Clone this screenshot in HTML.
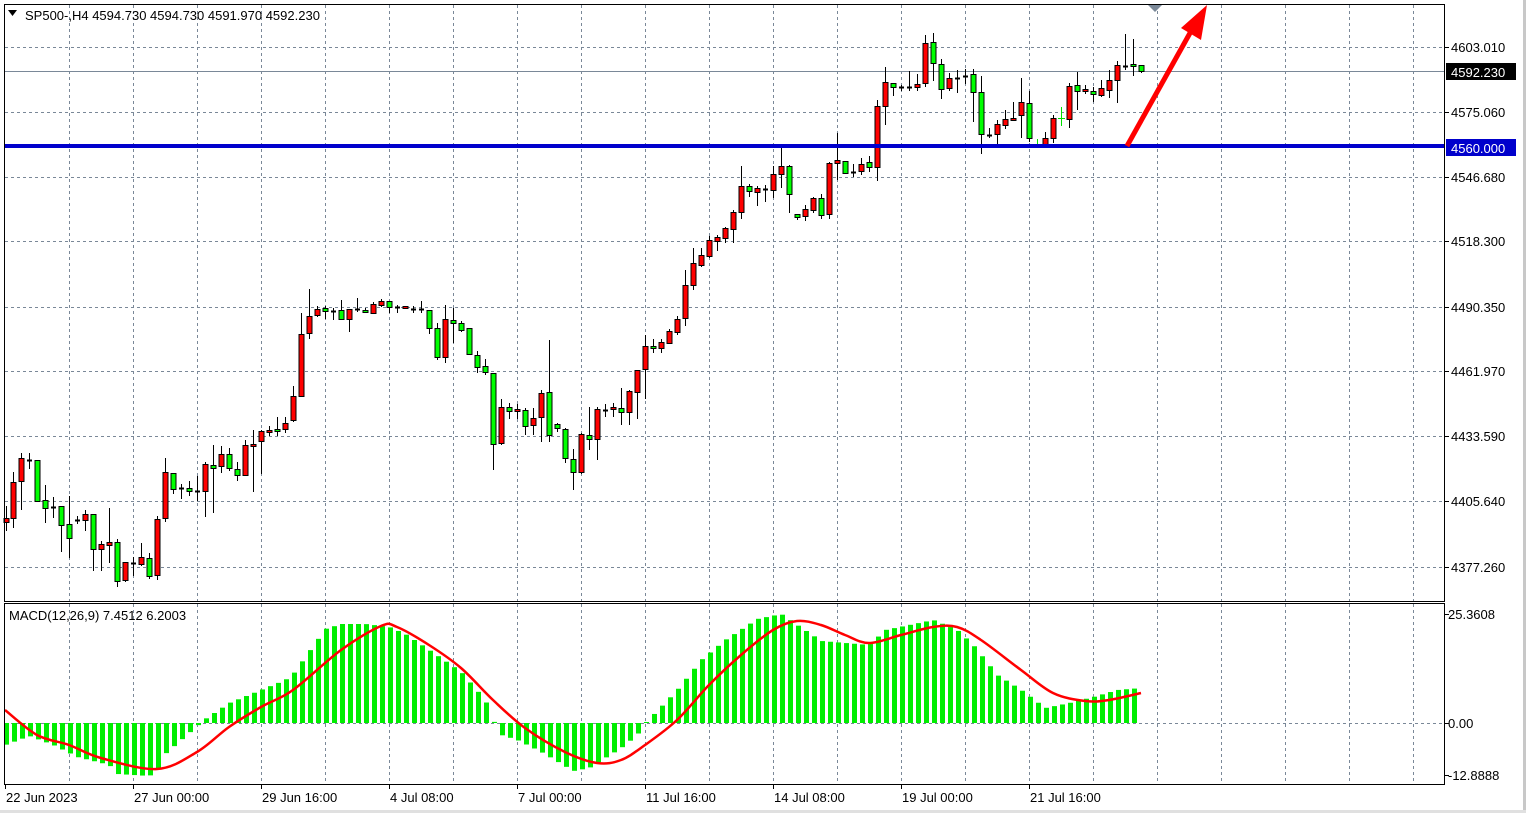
<!DOCTYPE html>
<html><head><meta charset="utf-8"><style>
html,body{margin:0;padding:0;background:#fff;width:1526px;height:813px;overflow:hidden}
svg{display:block}
text{font-family:"Liberation Sans",sans-serif;font-size:13px;fill:#000}
</style></head><body>
<svg id="s" width="1526" height="813" xmlns="http://www.w3.org/2000/svg"></svg>
<script>
const NS="http://www.w3.org/2000/svg";const s=document.getElementById('s');
function el(t,a,txt){const e=document.createElementNS(NS,t);for(const k in a)e.setAttribute(k,a[k]);if(txt!==undefined)e.textContent=txt;s.appendChild(e);return e;}
el('rect',{x:0,y:0,width:1526,height:813,fill:'#fff'});
el('rect',{x:1523,y:0,width:3,height:813,fill:'#c8c8c8'});
el('rect',{x:0,y:810,width:1526,height:3,fill:'#e0e0e0'});
const gy=[47,112,177,241,307,371,436,501,567];
gy.forEach(y=>el('line',{x1:5,x2:1445,y1:y+.5,y2:y+.5,stroke:'#7a8898','stroke-dasharray':'3,3'}));
for(let x=69;x<1445;x+=64){el('line',{x1:x+.5,x2:x+.5,y1:5,y2:601,stroke:'#7a8898','stroke-dasharray':'3,3'});el('line',{x1:x+.5,x2:x+.5,y1:604,y2:784,stroke:'#7a8898','stroke-dasharray':'3,3'});}
el('line',{x1:5,x2:1445,y1:723.5,y2:723.5,stroke:'#7a8898','stroke-dasharray':'3,3'});
el('line',{x1:5,x2:1445,y1:71.5,y2:71.5,stroke:'#7a8898'});
const C=[[6,518,522,506,531,'r'],[13,482,518,472,528,'r'],[21,458,481,453,510,'r'],[29,460,460,453,469,'d'],[37,460,501,460,501,'g'],[45,500,508,485,523,'g'],[53,507,507,497,518,'d'],[61,506,525,506,552,'g'],[69,524,538,496,558,'g'],[77,520,520,516,524,'d'],[85,514,520,510,531,'r'],[93,514,549,514,571,'g'],[101,544,549,541,571,'r'],[109,542,545,508,563,'r'],[117,542,581,539,587,'g'],[125,562,580,562,582,'r'],[133,563,563,557,576,'d'],[141,557,564,543,566,'r'],[149,558,576,553,579,'g'],[157,519,575,516,580,'r'],[165,472,518,458,522,'r'],[173,473,489,473,494,'g'],[181,488,488,484,499,'d'],[189,488,491,481,496,'g'],[197,491,491,476,501,'d'],[205,464,491,462,517,'r'],[213,465,468,445,513,'g'],[221,454,466,446,473,'r'],[229,454,468,448,471,'g'],[237,469,475,462,481,'g'],[245,445,475,440,476,'r'],[253,444,446,430,492,'r'],[261,431,441,430,474,'r'],[269,430,432,426,436,'r'],[277,429,431,417,436,'g'],[285,423,429,417,433,'r'],[293,396,420,386,422,'r'],[301,334,396,313,396,'r'],[309,316,333,289,339,'r'],[317,309,315,306,317,'r'],[325,308,311,306,319,'g'],[333,311,311,308,320,'d'],[341,310,319,300,320,'g'],[349,309,319,309,332,'r'],[357,309,309,298,312,'d'],[365,310,312,308,313,'g'],[373,304,313,302,314,'r'],[381,301,305,299,307,'r'],[389,301,307,301,313,'g'],[397,307,307,305,313,'d'],
[405,306,308,306,309,'r'],[413,309,309,306,313,'d'],[421,309,309,301,313,'d'],[429,310,328,310,334,'g'],[437,328,357,323,360,'g'],[445,319,357,305,363,'r'],[453,320,323,308,343,'g'],[461,323,330,321,332,'g'],[469,328,354,328,355,'g'],[477,355,367,351,373,'g'],[485,366,372,359,375,'g'],[493,373,444,373,470,'g'],[501,407,443,399,445,'r'],[509,407,411,403,419,'g'],[517,409,411,404,419,'r'],[525,410,426,408,435,'g'],[533,418,425,408,435,'r'],[541,393,417,390,442,'r'],[549,392,435,340,442,'g'],[557,424,428,423,432,'g'],[565,429,458,428,463,'g'],[573,459,472,449,490,'g'],[581,434,472,433,474,'r'],[589,435,439,407,450,'g'],[597,409,439,407,460,'r'],[605,410,410,404,417,'d'],[613,407,409,403,417,'r'],[621,408,412,388,425,'g'],[629,391,412,390,425,'r'],[637,370,392,370,419,'r'],[645,346,369,335,399,'r'],[653,346,348,339,353,'g'],[661,342,348,339,353,'r'],[669,331,343,329,343,'r'],[677,319,332,316,335,'r'],[685,285,318,270,326,'r'],
[693,263,285,248,290,'r'],[701,255,265,248,267,'r'],[709,240,256,236,258,'r'],[717,237,241,235,251,'r'],[725,228,238,227,243,'r'],[733,212,229,210,243,'r'],[741,186,212,166,219,'r'],[749,186,191,184,197,'g'],[757,188,192,186,206,'r'],[765,189,189,185,202,'d'],[773,174,190,166,198,'r'],[781,166,174,146,188,'r'],[789,166,194,165,213,'g'],[797,214,217,214,220,'g'],[805,209,216,205,221,'r'],[813,198,210,197,213,'r'],[821,198,215,194,219,'g'],[829,163,214,162,219,'r'],[837,160,163,133,180,'r'],[845,161,173,161,174,'g'],[853,172,172,164,177,'d'],[861,164,171,158,175,'r'],[869,162,167,156,172,'g'],[877,106,167,100,181,'r'],[885,82,106,67,125,'r'],[893,83,87,83,96,'g'],[901,87,87,85,91,'d'],[909,87,87,71,91,'d'],[917,84,87,74,91,'r'],[925,43,83,35,87,'r'],[933,42,63,33,81,'g'],[941,64,89,59,99,'g'],[949,78,88,73,91,'r'],[957,78,78,70,93,'d'],[965,76,76,69,84,'d'],[973,74,92,69,122,'g'],[981,92,134,76,154,'g'],[989,135,135,128,138,'d'],[997,124,134,120,144,'r'],[1005,119,125,110,129,'r'],[1013,118,120,102,121,'r'],[1021,102,115,78,138,'r'],[1029,103,138,91,142,'g'],[1045,138,144,132,145,'r'],[1053,118,138,115,143,'r'],[1069,86,119,83,128,'r'],[1077,85,91,72,110,'g'],[1085,89,91,85,94,'r'],[1093,91,94,87,102,'g'],[1101,88,95,80,97,'r'],[1109,80,90,70,98,'r'],[1117,65,80,61,103,'r'],[1125,66,66,34,70,'d'],[1133,64,66,39,76,'g'],[1141,65,71,65,73,'g']];
C.forEach(c=>{const[x,t,b,wt,wb,k]=c;el('line',{x1:x+.5,x2:x+.5,y1:wt,y2:wb,stroke:'#000'});
if(k==='d'){el('line',{x1:x-2,x2:x+3,y1:t+.5,y2:t+.5,stroke:'#000','stroke-width':2});}
else{el('rect',{x:x-2,y:t+.5,width:5,height:Math.max(b-t,2),fill:k==='r'?'#ff0000':'#00ff00',stroke:'#000'});}});
el('line',{x1:1061.5,x2:1061.5,y1:107,y2:126,stroke:'#00e000'});el('line',{x1:1058,x2:1065,y1:118.5,y2:118.5,stroke:'#00e000'});
el('line',{x1:1037.5,x2:1037.5,y1:139,y2:146,stroke:'#00e000'});
el('rect',{x:5,y:144,width:1440,height:4,fill:'#0000cc'});
el('line',{x1:1127,y1:146,x2:1190,y2:33,stroke:'#ff0000','stroke-width':5});
el('polygon',{points:'1207,5 1201,40 1181,28',fill:'#ff0000'});
el('polygon',{points:'1148,5 1162,5 1155,12',fill:'#7a8898'});
function interp(kp,x){for(let i=0;i<kp.length-1;i++){if(x>=kp[i][0]&&x<=kp[i+1][0]){const f=(x-kp[i][0])/(kp[i+1][0]-kp[i][0]);return kp[i][1]+f*(kp[i+1][1]-kp[i][1]);}}return kp[kp.length-1][1];}
const H=[[5,745],[29,736],[53,745],[77,757],[109,765],[117,774],[149,776],[157,771],[165,754],[197,726],[205,719],[229,703],[285,680],[293,674],[325,629],[341,624],[365,624],[389,627],[405,634],[429,650],[461,672],[485,700],[493,720],[501,735],[517,740],[541,752],[573,771],[589,768],[621,748],[637,735],[645,723],[653,715],[677,690],[701,660],[725,640],[757,619],[781,614],[797,625],[821,641],[869,645],[885,630],[933,620],[957,630],[973,645],[997,675],[1021,690],[1045,708],[1069,703],[1093,697],[1117,690],[1141,688]];
for(let x=6;x<=1141;x+=8){const y=interp(H,x);const t=Math.min(y,723),h=Math.abs(y-723);if(h>0.5)el('rect',{x:x-2,y:t,width:5,height:h,fill:'#00ee00'});}
const S=[[5,710],[37,735],[69,745],[101,758],[157,769],[197,752],[229,727],[261,707],[293,690],[341,650],[381,626],[397,627],[429,645],[461,668],[493,700],[525,728],[565,752],[597,763],[621,760],[645,745],[677,720],[709,685],[741,655],[773,630],[797,621],[821,625],[845,635],[869,643],[901,635],[933,627],[957,627],[981,640],[1021,670],[1053,693],[1085,701],[1109,700],[1141,693]];
let d='M'+S[0][0]+','+S[0][1];
for(let i=0;i<S.length-1;i++){const p0=S[Math.max(i-1,0)],p1=S[i],p2=S[i+1],p3=S[Math.min(i+2,S.length-1)];
const c1x=p1[0]+(p2[0]-p0[0])/6,c1y=p1[1]+(p2[1]-p0[1])/6,c2x=p2[0]-(p3[0]-p1[0])/6,c2y=p2[1]-(p3[1]-p1[1])/6;
d+=` C${c1x},${c1y} ${c2x},${c2y} ${p2[0]},${p2[1]}`;}
el('path',{d:d,fill:'none',stroke:'#ff0000','stroke-width':2.5});
el('rect',{x:4.5,y:4.5,width:1440,height:597,fill:'none',stroke:'#000'});
el('rect',{x:4.5,y:603.5,width:1440,height:181,fill:'none',stroke:'#000'});
const pl=[[47,'4603.010'],[112,'4575.060'],[177,'4546.680'],[241,'4518.300'],[307,'4490.350'],[371,'4461.970'],[436,'4433.590'],[501,'4405.640'],[567,'4377.260']];
pl.forEach(p=>{el('line',{x1:1445,x2:1449,y1:p[0]+.5,y2:p[0]+.5,stroke:'#000'});el('text',{x:1451,y:p[0]+5},p[1]);});
el('rect',{x:1446,y:63,width:70,height:17,fill:'#000'});el('text',{x:1451,y:77,style:'fill:#fff'},'4592.230');
el('rect',{x:1446,y:139,width:70,height:17,fill:'#0000cc'});el('text',{x:1451,y:153,style:'fill:#fff'},'4560.000');
[[614,'25.3608'],[723,'0.00'],[775,'-12.8888']].forEach(p=>{el('line',{x1:1445,x2:1449,y1:p[0]+.5,y2:p[0]+.5,stroke:'#000'});el('text',{x:1448,y:p[0]+5},p[1]);});
[[5,'22 Jun 2023'],[133,'27 Jun 00:00'],[261,'29 Jun 16:00'],[389,'4 Jul 08:00'],[517,'7 Jul 00:00'],[645,'11 Jul 16:00'],[773,'14 Jul 08:00'],[901,'19 Jul 00:00'],[1029,'21 Jul 16:00']].forEach(p=>{el('line',{x1:p[0]+.5,x2:p[0]+.5,y1:784,y2:789,stroke:'#000'});el('text',{x:p[0]+1,y:802},p[1]);});
el('polygon',{points:'8,10 17,10 12.5,16',fill:'#000'});
el('text',{x:25,y:20},'SP500-,H4  4594.730 4594.730 4591.970 4592.230');
el('text',{x:9,y:620},'MACD(12,26,9) 7.4512 6.2003');
</script>
</body></html>
